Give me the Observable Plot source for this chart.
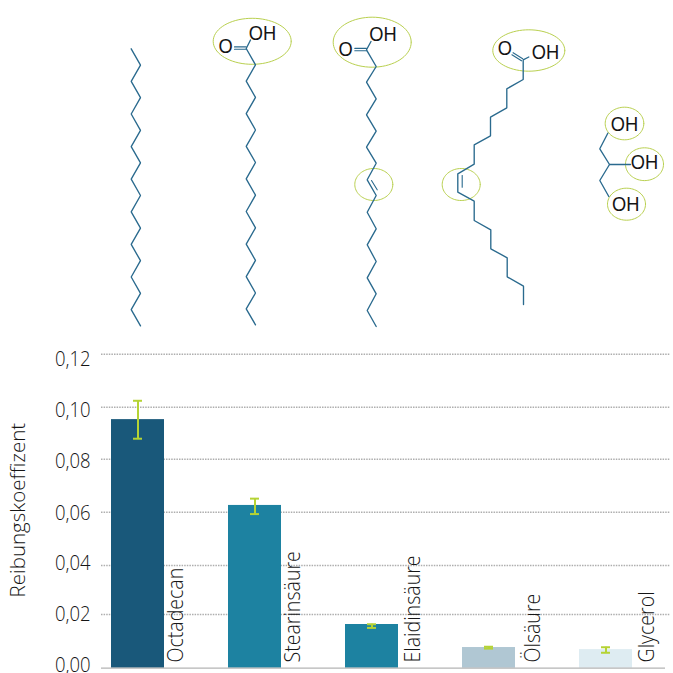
<!DOCTYPE html>
<html lang="de">
<head>
<meta charset="utf-8">
<script src="https://cdn.jsdelivr.net/npm/d3@7"></script>
<script src="https://cdn.jsdelivr.net/npm/@observablehq/plot@0.6"></script>
<style>
html,body{margin:0;padding:0;background:#fff;overflow:hidden}
svg{display:block}
</style>
</head>
<body>
<div id="molecules"></div>
<div id="chart"></div>
<script>
// --- bar chart data
const substances = ["Octadecan","Stearinsäure","Elaidinsäure","Ölsäure","Glycerol"];
const friction    = [0.0950,0.0622,0.0167,0.0079,0.0071];
const errorLow    = [0.0877,0.0589,0.0154,0.0075,0.0059];
const errorHigh   = [0.1022,0.0648,0.0168,0.0082,0.0080];
const barColors   = ["#19587a","#1d82a1","#1d82a1","#b0c7d3","#deecf2"];
const tickValues  = [0,0.02,0.04,0.06,0.08,0.10,0.12];
const tickLabels  = ["0,00","0,02","0,04","0,06","0,08","0,10","0,12"];
const yTitle      = "Reibungskoeffizent";

// --- structural formulae (picture coordinates of the drawing)
const octadecanChain = [[130.7,48.3],[140,64.6],[130.7,80.9],[140,97.2],[130.7,113.5],[140,129.8],[130.7,146.1],[140,162.4],[130.7,178.7],[140,195],[130.7,211.3],[140,227.6],[130.7,243.9],[140,260.2],[130.7,276.5],[140,292.8],[130.7,309.1],[140,325.4]];
const stearicChain = [[250,39.5],[245.7,48],[255,64.3],[245.7,80.6],[255,96.9],[245.7,113.2],[255,129.5],[245.7,145.8],[255,162],[245.7,178.4],[255,194.7],[245.7,211],[255,227.3],[245.7,243.6],[255,259.9],[245.7,276.2],[255,292.5],[245.7,308.4],[255,324.3]];
const elaidicChain = [[370.5,41],[366,49.3],[375.7,66],[366,81.7],[375.7,98.3],[366,114.3],[375.7,130.7],[366,146.7],[375.7,162.7],[366.7,179.3],[375.7,195],[366.7,211.7],[375.7,228.3],[366.7,244.3],[375.7,261],[366.7,277.3],[375.7,293.3],[366.7,310],[375.7,326]];
const oleicChain = [[528.3,56.5],[522.7,59.3],[522.7,79],[506.3,88.3],[506.3,107.3],[490,116.7],[490,135.3],[473.7,144.3],[473.7,163.7],[457.3,173.3],[457.3,191.7],[473.7,200.7],[473.7,220],[490.3,229.3],[490.3,248.3],[506.7,257.3],[506.7,276.3],[523,285.7],[523,304]];
const glycerolChain = [[607.3,132.7],[599.3,148.3],[609,164],[599.3,180],[608.3,196]];
const glycerolBranch = [[609,164],[630,164]];
const doubleBonds = [
  [[234,46.4],[245.7,46.4]], [[234,48.8],[245.7,48.8]],
  [[354.3,47.9],[366,47.9]], [[354.3,50.3],[366,50.3]],
  [[512.6,52.2],[522.2,58.2]], [[511.4,54.3],[521,60.3]],
  [[371,180],[376.7,189.3]],
  [[461.7,175],[461.7,186.7]]
];
const atomLabels = [
  {label:"O", x:225.2, y:46},  {label:"OH", x:262, y:32.7},
  {label:"O", x:345, y:48.3},  {label:"OH", x:382.5, y:33.3},
  {label:"O", x:504.3, y:47.7},{label:"OH", x:545, y:51.7},
  {label:"OH", x:624, y:123.3},{label:"OH", x:644, y:161.7},{label:"OH", x:625.3, y:203.3}
];
const highlightRings = [
  {cx:251.7,cy:40.8,rx:39,ry:23},
  {cx:371.7,cy:41.7,rx:39,ry:25},
  {cx:373.3,cy:184,rx:19,ry:16},
  {cx:528.3,cy:50,rx:36,ry:20.7},
  {cx:460.7,cy:184,rx:19,ry:16},
  {cx:624,cy:123,rx:19.3,ry:16.3},
  {cx:644,cy:163.7,rx:19,ry:16.4},
  {cx:626,cy:203.7,rx:19,ry:16}
];

// --- styles
const bondColor = "#2a6a8e", ringColor = "#b9d04f", errorColor = "#b5d334", inkColor = "#151515";
const uiFont = "'Open Sans', sans-serif";
const gridDy = [0,-1.4,2,1,0.4,0.7,0];
const labelDy = [-3.2,-1.4,0,1.9,2.4,4,4.6];
const nameDx = [38.2,37.8,41.2,43.5,40.5];

const bond = (pts, w = 1.35) => Plot.line(pts, {x:d=>d[0], y:d=>d[1], stroke:bondColor, strokeWidth:w, strokeLinejoin:"miter"});
const ringPoints = highlightRings.flatMap((r,i) =>
  d3.range(0,73).map(k => ({ring:i, x:r.cx + r.rx*Math.cos(k*Math.PI/36), y:r.cy + r.ry*Math.sin(k*Math.PI/36)})));

// render hook: narrows text along its own direction, keeping its anchor where the scale put it
const squeeze = factor => (index, scales, values, dimensions, context, next) => {
  const g = next(index, scales, values, dimensions, context);
  g.querySelectorAll("text").forEach(t =>
    t.setAttribute("transform", `${t.getAttribute("transform") || ""} scale(${factor},1)`));
  return g;
};

const molecules = Plot.plot({
  width:673, height:340, margin:0,
  style:{background:"transparent"},
  x:{domain:[0,673], range:[0,673], axis:null},
  y:{domain:[0,340], range:[0,340], axis:null},
  marks:[
    Plot.line(ringPoints,{x:"x",y:"y",z:"ring",stroke:ringColor,strokeWidth:1}),
    bond(octadecanChain), bond(stearicChain), bond(elaidicChain), bond(oleicChain),
    bond(glycerolChain), bond(glycerolBranch),
    ...doubleBonds.map(b => bond(b,1.1)),
    Plot.text(atomLabels,{render:squeeze(0.87),x:"x",y:"y",text:"label",fontSize:21,fontFamily:"'Liberation Sans', Arial, sans-serif",fill:inkColor,lineAnchor:"middle"})
  ]
});
document.getElementById("molecules").append(molecules);

const rows = substances.map((name,i)=>({name,value:friction[i],low:errorLow[i],high:errorHigh[i],color:barColors[i]}));

const chart = Plot.plot({
  width:673, height:333,
  marginLeft:101, marginRight:3, marginTop:13.7, marginBottom:5.3,
  style:{background:"transparent"},
  x:{type:"band",domain:substances,range:[111,636],paddingInner:0.5508,paddingOuter:0,align:0,axis:null},
  y:{domain:[0,0.12],axis:null},
  marks:[
    ...tickValues.slice(1).map((t,i)=>Plot.ruleY([t],{dy:gridDy[i+1],stroke:"#aeaeae",strokeWidth:1.4,strokeDasharray:"1.5 1.1"})),
    Plot.barY(rows,{x:"name",y:"value",fill:"color"}),
    Plot.ruleY([0],{stroke:"#b4b4b4",strokeWidth:1.3,insetRight:5}),
    Plot.ruleX(rows,{x:"name",y1:"low",y2:"high",stroke:errorColor,strokeWidth:2}),
    Plot.tickY(rows,{x:"name",y:"low",stroke:errorColor,strokeWidth:2,insetLeft:22,insetRight:22}),
    Plot.tickY(rows,{x:"name",y:"high",stroke:errorColor,strokeWidth:2,insetLeft:22,insetRight:22}),
    ...rows.map((r,i)=>Plot.text([r],{render:squeeze(0.89),x:"name",y:0,text:"name",rotate:-90,textAnchor:"start",lineAnchor:"middle",dx:nameDx[i],dy:-5.7,fontSize:22,fontFamily:uiFont,fontWeight:300,fill:inkColor})),
    ...tickValues.map((t,i)=>Plot.text([tickLabels[i]],{render:squeeze(0.88),y:[t],frameAnchor:"left",textAnchor:"end",lineAnchor:"middle",dx:-11,dy:labelDy[i],fontSize:21,fontFamily:uiFont,fontWeight:300,fill:inkColor})),
    Plot.text([yTitle],{y:[0.0604],frameAnchor:"left",rotate:-90,textAnchor:"middle",lineAnchor:"middle",dx:-83,fontSize:20.5,fontFamily:uiFont,fontWeight:300,fill:inkColor})
  ]
});
document.getElementById("chart").append(chart);
</script>
</body>
</html>
